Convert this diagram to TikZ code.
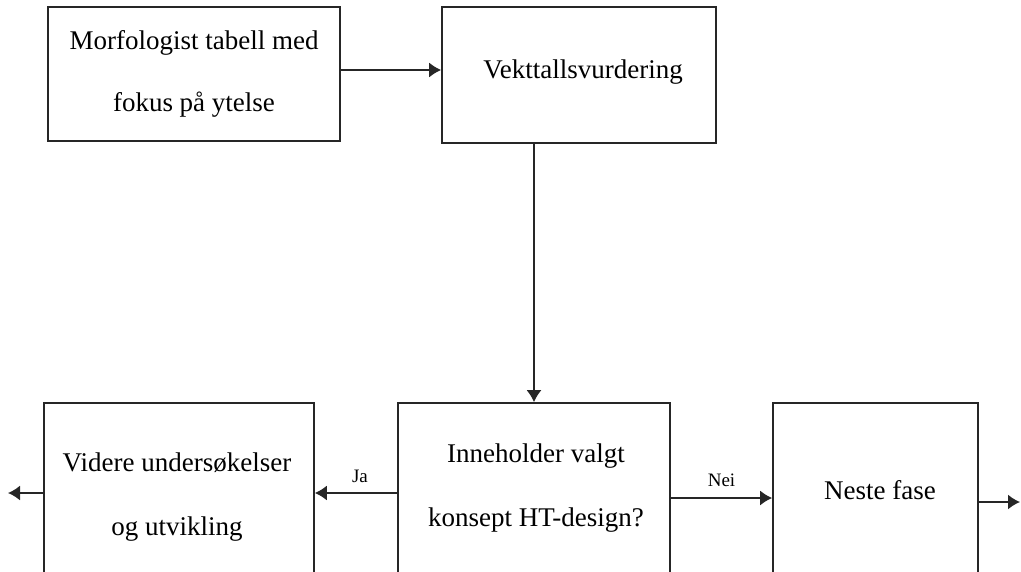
\documentclass[tikz,border=0pt]{standalone}
\usepackage{fontspec}
\setmainfont{Liberation Serif}
\usetikzlibrary{arrows.meta}
\begin{document}
\begin{tikzpicture}[x=1pt,y=1pt,
  stepbox/.style={draw=black!85,line width=1.6pt,rectangle,inner sep=0pt,align=center,
    font=\fontsize{27}{62}\selectfont},
  txt/.style={inner sep=0pt,align=center,font=\fontsize{27}{64}\selectfont},
  lbl/.style={inner sep=0pt,font=\fontsize{19}{22}\selectfont},
  arr/.style={draw=black!85,line width=1.6pt,-{Latex[length=12pt,width=15pt]}}]
\useasboundingbox (0,0) rectangle (1021,-571);
\clip (0,0) rectangle (1021,-571);
% top row
\node[stepbox,minimum width=292pt,minimum height=134pt] (morf) at (194,-74)
  {Morfologist tabell med\\fokus på ytelse};
\node[stepbox,minimum width=274pt,minimum height=136pt] (vekt) at (579,-75) {};
\node[txt] (vekttxt) at (583,-72) {Vekttallsvurdering};
% bottom row (boxes run past the lower edge)
\node[stepbox,minimum width=270pt,minimum height=200pt] (videre) at (179,-503) {};
\node[stepbox,minimum width=272pt,minimum height=200pt] (inne) at (534,-503) {};
\node[stepbox,minimum width=205pt,minimum height=200pt] (neste) at (875.5,-503) {};
\node[txt] (videretxt) at (177,-497) {Videre undersøkelser\\og utvikling};
\node[txt] (innetxt) at (536,-488) {Inneholder valgt\\konsept HT-design?};
\node[txt] (nestetxt) at (880,-490) {Neste fase};
% loose ends
\coordinate (outL) at (8,-493);
\coordinate (outR) at (1020,-502);
% connectors
\draw[arr] ([yshift=4pt]morf.east) -- ([yshift=4pt]morf.east -| vekt.west);
\draw[arr] (inne.north |- vekt.south) -- (inne.north);
\draw[arr] (inne.west |- 0,-493) -- (videre.east |- 0,-493)
  node[lbl,midway,above=10pt,xshift=4pt] (ja) {Ja};
\draw[arr] (inne.east |- 0,-498) -- (neste.west |- 0,-498)
  node[lbl,midway,above=11pt] (nei) {Nei};
\draw[arr] (videre.west |- outL) -- (outL);
\draw[arr] (neste.east |- outR) -- (outR);
\end{tikzpicture}
\end{document}
